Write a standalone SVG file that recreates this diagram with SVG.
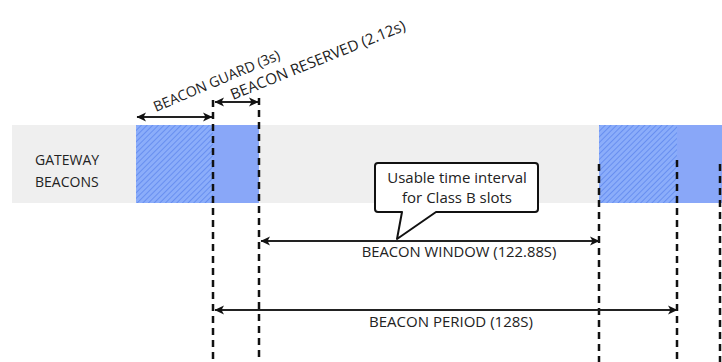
<svg xmlns="http://www.w3.org/2000/svg" width="722" height="362" viewBox="0 0 722 362">
<defs>
<pattern id="hatch" width="4" height="4" patternUnits="userSpaceOnUse" patternTransform="rotate(45)">
<rect width="4" height="4" fill="#8badfa"/>
<line x1="0" y1="0" x2="0" y2="4" stroke="#5f88ee" stroke-width="1.6"/>
</pattern>
<marker id="ah" viewBox="0 0 10 10" refX="9" refY="5" markerWidth="10" markerHeight="10" markerUnits="userSpaceOnUse" orient="auto-start-reverse">
<path d="M0,0.5 L9.5,5 L0,9.5 L2.5,5 z" fill="#111"/>
</marker>
<style>
.txt{font-family:"Open Sans","Noto Sans","Liberation Sans",sans-serif;fill:#222;}
.dash{stroke:#111;stroke-width:2.5;stroke-dasharray:7 5;fill:none;}
.arr{stroke:#222;stroke-width:2;fill:none;marker-start:url(#ah);marker-end:url(#ah);}
.solid{fill:#89a7f8;}
</style>
</defs>
<rect x="0" y="0" width="722" height="362" fill="#ffffff"/>
<g id="band">
<rect x="12" y="125" width="710" height="78" fill="#efefef"/>
<text class="txt" x="35" y="165" font-size="14">GATEWAY</text>
<text class="txt" x="35" y="187" font-size="14">BEACONS</text>
</g>
<g id="beacon1">
<rect x="136" y="125" width="77" height="78" fill="url(#hatch)"/>
<rect class="solid" x="213" y="125" width="46" height="78"/>
</g>
<g id="beacon2">
<rect x="599" y="125" width="78" height="78" fill="url(#hatch)"/>
<rect class="solid" x="677" y="125" width="45" height="78"/>
</g>
<g id="connectors">
<line class="dash" x1="213" y1="100" x2="213" y2="362"/>
<line class="dash" x1="259" y1="98" x2="259" y2="362"/>
<line class="dash" x1="599" y1="164" x2="599" y2="362"/>
<line class="dash" x1="677" y1="160" x2="677" y2="362"/>
<line class="dash" x1="720" y1="164" x2="720" y2="362"/>
<line class="arr" x1="137" y1="117" x2="212" y2="117"/>
<line class="arr" x1="215" y1="102" x2="258" y2="102"/>
<line class="arr" x1="261" y1="241" x2="599" y2="241"/>
<line class="arr" x1="215" y1="310" x2="677" y2="310"/>
</g>
<g id="labels">
<text class="txt" font-size="14.2" transform="translate(156,112) rotate(-23)">BEACON GUARD (3s)</text>
<text class="txt" font-size="15.2" transform="translate(233,100) rotate(-22)">BEACON RESERVED (2.12s)</text>
<text class="txt" x="459" y="257" font-size="14.8" text-anchor="middle">BEACON WINDOW (122.88S)</text>
<text class="txt" x="451" y="327" font-size="15" text-anchor="middle">BEACON PERIOD (128S)</text>
</g>
<g id="callout">
<path d="M378,163 L535,163 Q538,163 538,166 L538,209 Q538,212 535,212 L436,212 L397,239 L402,212 L378,212 Q375,212 375,209 L375,166 Q375,163 378,163 z" fill="#ffffff" stroke="#111" stroke-width="2" stroke-linejoin="round"/>
<text class="txt" x="457" y="183" font-size="15" text-anchor="middle">Usable time interval</text>
<text class="txt" x="457" y="203" font-size="15" text-anchor="middle">for Class B slots</text>
</g>
</svg>
